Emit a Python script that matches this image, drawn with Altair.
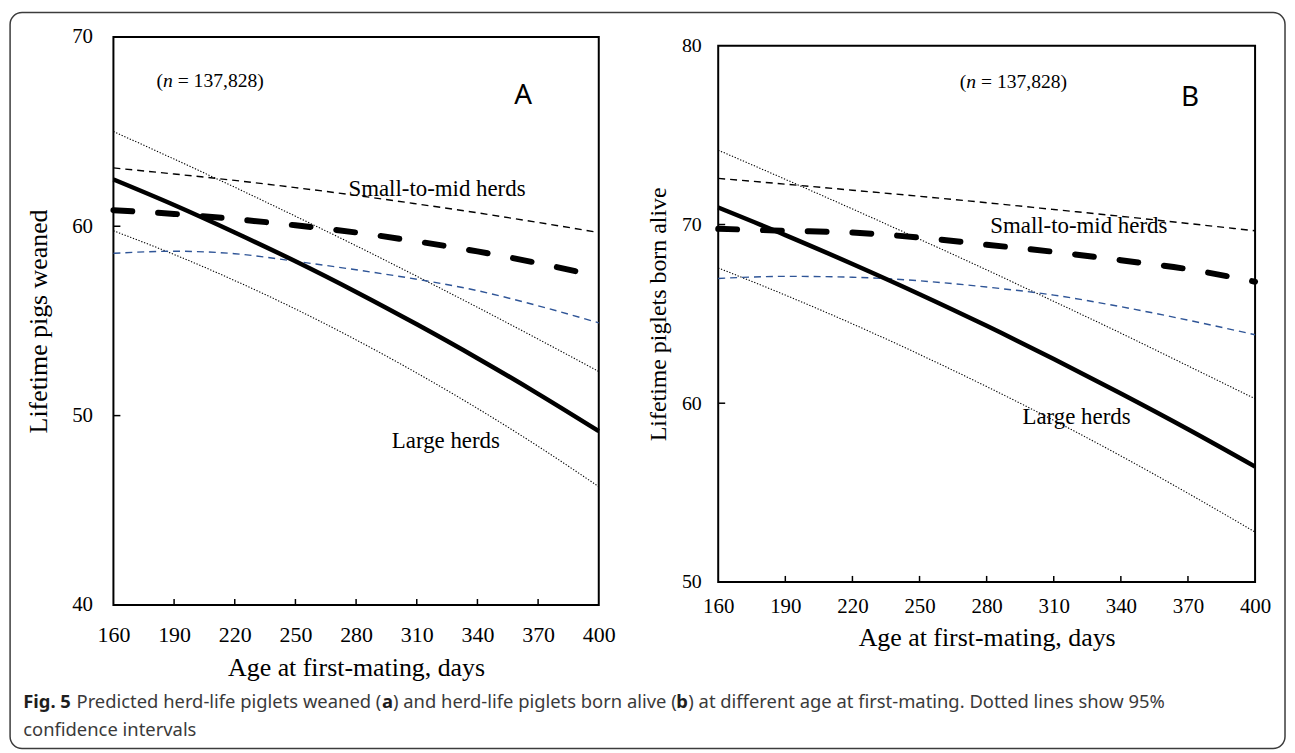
import altair as alt
import pandas as pd

# ---------------- data ----------------
ages = [160, 190, 220, 250, 280, 310, 340, 370, 400]
x_tick_values = [160, 190, 220, 250, 280, 310, 340, 370, 400]

# Panel A - lifetime pigs weaned
a_large = [62.47, 61.12, 59.67, 58.15, 56.53, 54.82, 53.03, 51.15, 49.18]
a_large_upper = [65.00, 63.55, 62.06, 60.53, 58.97, 57.36, 55.72, 54.04, 52.33]
a_large_lower = [59.76, 58.51, 57.13, 55.63, 54.00, 52.25, 50.38, 48.38, 46.25]
a_small = [60.85, 60.65, 60.38, 60.05, 59.67, 59.20, 58.67, 58.05, 57.35]
a_small_upper = [63.08, 62.76, 62.42, 62.04, 61.63, 61.18, 60.71, 60.20, 59.67]
a_small_lower = [58.57, 58.68, 58.55, 58.15, 57.70, 57.20, 56.60, 55.80, 54.90]
a_y_ticks = [40, 50, 60, 70]

# Panel B - lifetime piglets born alive
b_large = [70.95, 69.41, 67.79, 66.10, 64.33, 62.47, 60.54, 58.54, 56.45]
b_large_upper = [74.16, 72.53, 70.87, 69.18, 67.46, 65.70, 63.92, 62.09, 60.25]
b_large_lower = [67.57, 66.05, 64.44, 62.73, 60.93, 59.04, 57.05, 54.96, 52.79]
b_small = [69.76, 69.65, 69.55, 69.27, 68.87, 68.47, 68.00, 67.50, 66.80]
b_small_upper = [72.58, 72.26, 71.92, 71.58, 71.22, 70.84, 70.46, 70.06, 69.65]
b_small_lower = [66.98, 67.10, 67.05, 66.85, 66.50, 66.05, 65.40, 64.65, 63.83]
b_y_ticks = [50, 60, 70, 80]

series_names = ["large", "large_upper", "large_lower", "small", "small_upper", "small_lower"]

n_text = ["(", "n", "= 137,828)"]
herd_labels = ["Small-to-mid herds", "Large herds"]
panel_letters = ["A", "B"]
x_title = "Age at first-mating, days"
a_y_title = "Lifetime pigs weaned"
b_y_title = "Lifetime piglets born alive"
caption_line1 = ["Fig. 5", "Predicted herd-life piglets weaned (", "a",
                 ") and herd-life piglets born alive (", "b",
                 ") at different age at first-mating. Dotted lines show 95%"]
caption_line2 = "confidence intervals"

SERIF = "Liberation Serif"
SANS = "Noto Sans"
BLUE = "#2F5597"


def long_df(lists):
    rows = []
    for name, vals in zip(series_names, lists):
        for a, v in zip(ages, vals):
            rows.append({"age": a, "value": v, "s": name})
    return pd.DataFrame(rows)


styles = [
    ("large_upper", dict(color="black", strokeWidth=1.1, strokeDash=[1.3, 1.7])),
    ("large_lower", dict(color="black", strokeWidth=1.1, strokeDash=[1.3, 1.7])),
    ("small_upper", dict(color="black", strokeWidth=1.4, strokeDash=[7, 5])),
    ("small_lower", dict(color=BLUE, strokeWidth=1.4, strokeDash=[7, 5])),
    ("small", dict(color="black", strokeWidth=6, strokeDash=[19, 26], strokeCap="round")),
    ("large", dict(color="black", strokeWidth=4.5)),
]


def panel(df, ydom, yticks, width, height, xax, yax, n_pos, small_pos, large_pos, letter, letter_pos, extra=None):
    X = alt.X("age:Q", scale=alt.Scale(domain=[160, 400], nice=False, zero=False),
              axis=alt.Axis(values=x_tick_values, ticks=False, domain=False, grid=False,
                            labelFont=SERIF, labelFlush=False, labelOverlap=False,
                            labelBaseline="alphabetic", title=x_title, titleFont=SERIF,
                            titleFontWeight="normal", titleBaseline="alphabetic", **xax))
    Y = alt.Y("value:Q", scale=alt.Scale(domain=ydom, nice=False, zero=False),
              axis=alt.Axis(values=yticks, ticks=False, domain=False, grid=False,
                            labelFont=SERIF, labelOverlap=False, labelFlush=False,
                            titleFont=SERIF, titleFontWeight="normal",
                            titleBaseline="alphabetic", **yax))
    base = alt.Chart(df).encode(x=X, y=Y)
    layers = []
    for s, st in styles:
        layers.append(base.transform_filter(alt.datum.s == s).mark_line(interpolate="monotone", **st))

    xt = alt.Chart(pd.DataFrame({"age": x_tick_values[1:-1]})).mark_rule(
        color="black", strokeWidth=1.5).encode(x=X, y=alt.value(height), y2=alt.value(height - 6))
    yt = alt.Chart(pd.DataFrame({"value": yticks[1:-1]})).mark_rule(
        color="black", strokeWidth=1.5).encode(y=Y, x=alt.value(0), x2=alt.value(7))
    layers += [xt, yt]

    def txt(pos, text, **kw):
        d = pd.DataFrame({"age": [pos[0]], "value": [pos[1]]})
        return alt.Chart(d).mark_text(text=text, **kw).encode(x=X, y=Y)

    layers.append(txt(n_pos, n_text[0], font=SERIF, fontSize=19.7, align="left", baseline="alphabetic", color="black"))
    layers.append(txt(n_pos, n_text[1], font=SERIF, fontSize=19.7, fontStyle="italic", align="left",
                      baseline="alphabetic", dx=6.6, color="black"))
    layers.append(txt(n_pos, n_text[2], font=SERIF, fontSize=19.7, align="left", baseline="alphabetic",
                      dx=21.3, color="black"))
    layers.append(txt(small_pos, herd_labels[0], font=SERIF, fontSize=23, align="center",
                      baseline="alphabetic", color="black"))
    layers.append(txt(large_pos, herd_labels[1], font=SERIF, fontSize=23, align="center",
                      baseline="alphabetic", color="black"))
    layers.append(txt(letter_pos, letter, font=SANS, fontSize=28, align="center",
                      baseline="alphabetic", color="black"))
    if extra:
        layers += extra
    return alt.layer(*layers).properties(width=width, height=height)


# ---------- decorations (figure frame and caption), drawn in panel A coordinates ----------
one = pd.DataFrame({"k": [0]})
frame = alt.Chart(one).mark_rect(fillOpacity=0, stroke="#3c3c3c", strokeWidth=1.5, cornerRadius=12).encode(
    x=alt.value(-103.9), x2=alt.value(1178.0), y=alt.value(-24.5), y2=alt.value(715.5))


def cap(text, x, y, bold=False):
    return alt.Chart(one).mark_text(
        text=text, font=SANS, fontSize=18.5, fontWeight="bold" if bold else "normal",
        color="#1e1e1e" if bold else "#3a3a3a", align="left", baseline="alphabetic"
    ).encode(x=alt.value(x), y=alt.value(y))


cap_y1 = 675.2
cap_y2 = 702.7
caption = [
    cap(caption_line1[0], -90.7, cap_y1, True),
    cap(caption_line1[1], -37.1, cap_y1),
    cap(caption_line1[2], 270.0, cap_y1, True),
    cap(caption_line1[3], 281.1, cap_y1),
    cap(caption_line1[4], 566.0, cap_y1, True),
    cap(caption_line1[5], 578.0, cap_y1),
    cap(caption_line2, -90.7, cap_y2),
]

dfA = long_df([a_large, a_large_upper, a_large_lower, a_small, a_small_upper, a_small_lower])
dfB = long_df([b_large, b_large_upper, b_large_lower, b_small, b_small_upper, b_small_lower])

panelA = panel(
    dfA, [40, 70], a_y_ticks, 488, 571.2,
    xax=dict(labelFontSize=22, labelPadding=36.5, titleFontSize=26, titleY=70.5),
    yax=dict(labelFontSize=21, labelPadding=21, title=a_y_title, titleFontSize=26, titleX=-67.4),
    n_pos=(181.3, 67.34), small_pos=(320.0, 61.59), large_pos=(324.4, 48.31),
    letter="A", letter_pos=(362.6, 66.46), extra=[frame] + caption,
)

panelB = panel(
    dfB, [50, 80], b_y_ticks, 539.8, 539.0,
    xax=dict(labelFontSize=21, labelPadding=31, titleFontSize=26, titleY=64.3),
    yax=dict(labelFontSize=20, labelPadding=17, title=b_y_title, titleFontSize=24, titleX=-52.5),
    n_pos=(268.0, 77.65), small_pos=(321.2, 69.52), large_pos=(320.2, 58.82),
    letter="B", letter_pos=(370.9, 76.66),
)

spacer = alt.Chart(one).mark_point(opacity=0).encode(x=alt.value(0), y=alt.value(0)).properties(
    width=539.8, height=8.4, view=alt.ViewBackground(strokeOpacity=0))

right = alt.vconcat(spacer, panelB, spacing=0, bounds="flush")

chart = alt.hconcat(panelA, right, spacing=120.1, bounds="flush").properties(
    padding=0, background="white"
).configure_view(stroke="black", strokeWidth=2).configure_axis(labelColor="black", titleColor="black")

chart.save("out.html", embed_options={"renderer": "svg", "actions": False})
